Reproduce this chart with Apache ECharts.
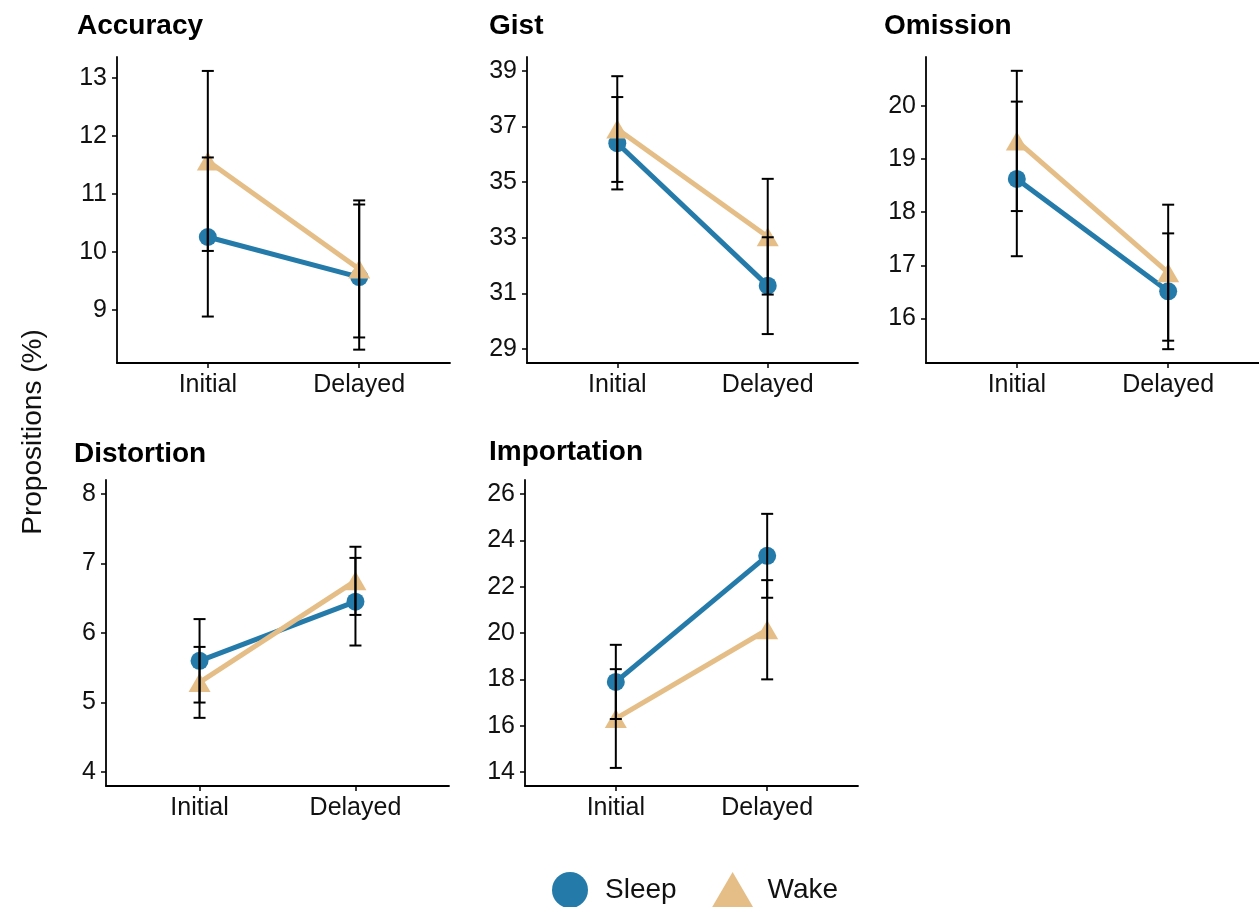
<!DOCTYPE html>
<html>
<head>
<meta charset="utf-8">
<script src="https://cdn.jsdelivr.net/npm/echarts@6/dist/echarts.min.js"></script>
<style>html,body{margin:0;padding:0;background:#fff}#c{width:1259px;height:907px}</style>
</head>
<body>
<div id="c"></div>
<script>
// ---- data ----
var categories = ['Initial', 'Delayed'];
var panelTitles = ['Accuracy', 'Gist', 'Omission', 'Distortion', 'Importation'];
var groups = ['Sleep', 'Wake'];
// means [Initial, Delayed]
var sleepMean = [[10.26, 9.57], [36.40, 31.28], [18.625, 16.51], [5.60, 6.45], [17.89, 23.33]];
var wakeMean  = [[11.57, 9.71], [36.91, 33.04], [19.34, 16.86], [5.29, 6.75], [16.31, 20.14]];
// error bar half-widths [Initial, Delayed]
var sleepErr = [[1.37, 1.25], [1.66, 1.74], [1.455, 1.09], [0.60, 0.63], [1.60, 1.81]];
var wakeErr  = [[1.55, 1.18], [1.90, 2.08], [1.32, 1.28], [0.51, 0.49], [2.13, 2.14]];
// y tick labels
var yTicks = [[9, 10, 11, 12, 13], [29, 31, 33, 35, 37, 39], [16, 17, 18, 19, 20], [4, 5, 6, 7, 8], [14, 16, 18, 20, 22, 24, 26]];
var yMin = [8.09, 28.5, 15.16, 3.8, 13.4];
var yMax = [13.36, 39.5, 20.92, 8.2, 26.6];

// ---- layout ----
var grids = [
  {left: 117, top: 57, width: 333, height: 306},
  {left: 527, top: 57, width: 331, height: 306},
  {left: 926, top: 57, width: 333, height: 306},
  {left: 106, top: 480, width: 343, height: 306},
  {left: 525, top: 480, width: 333, height: 306}
];
var titlePos = [[77, 12], [489, 12], [884, 12], [74, 440], [489, 438]];
var blue = '#247BAA', tan = '#E5BE87';
var font = '"Liberation Sans", Arial, Helvetica, sans-serif';

var option = {
  animation: false,
  backgroundColor: '#fff',
  title: panelTitles.map(function (t, i) {
    return {text: t, left: titlePos[i][0], top: titlePos[i][1], padding: 0,
      textStyle: {fontFamily: font, fontSize: 28, fontWeight: 'bold', color: '#000'}};
  }),
  grid: grids.map(function (g) { return Object.assign({containLabel: false}, g); }),
  legend: {
    left: 547, top: 867, orient: 'horizontal',
    itemWidth: 42, itemHeight: 36, itemGap: 35,
    textStyle: {fontFamily: font, fontSize: 28, color: '#111', padding: [0, 0, 0, 9]},
    data: [
      {name: 'Sleep', icon: 'circle', itemStyle: {color: blue}},
      {name: 'Wake', icon: 'triangle', itemStyle: {color: tan}}
    ],
    selectedMode: false
  },
  graphic: [{
    type: 'text', x: 33, y: 432, rotation: Math.PI / 2,
    style: {text: 'Propositions (%)', font: '28px ' + font, fill: '#111',
      align: 'center', verticalAlign: 'middle'}
  }],
  xAxis: grids.map(function (g, i) {
    return {
      type: 'value', gridIndex: i, min: 0.4, max: 2.6,
      axisLine: {show: true, lineStyle: {color: '#000', width: 1.8}},
      axisTick: {show: true, length: 5, lineStyle: {color: '#000', width: 1.5}, customValues: [1, 2]},
      axisLabel: {show: true, customValues: [1, 2], margin: 10, fontFamily: font, fontSize: 25, color: '#111',
        formatter: function (v) { return categories[Math.round(v) - 1] || ''; }},
      splitLine: {show: false}
    };
  }),
  yAxis: grids.map(function (g, i) {
    return {
      type: 'value', gridIndex: i, min: yMin[i], max: yMax[i],
      axisLine: {show: true, lineStyle: {color: '#000', width: 1.8}},
      axisTick: {show: true, length: 5, lineStyle: {color: '#000', width: 1.5}, customValues: yTicks[i]},
      axisLabel: {show: true, customValues: yTicks[i], margin: 10, fontFamily: font, fontSize: 25, color: '#111'},
      splitLine: {show: false}
    };
  }),
  series: []
};

function errRender(params, api) {
  var x = api.value(0), lo = api.value(1), hi = api.value(2);
  var p1 = api.coord([x, lo]), p2 = api.coord([x, hi]);
  var w = 6;
  var st = {stroke: '#000', lineWidth: 2};
  return {type: 'group', children: [
    {type: 'line', shape: {x1: p1[0], y1: p1[1], x2: p2[0], y2: p2[1]}, style: st},
    {type: 'line', shape: {x1: p1[0] - w, y1: p1[1], x2: p1[0] + w, y2: p1[1]}, style: st},
    {type: 'line', shape: {x1: p2[0] - w, y1: p2[1], x2: p2[0] + w, y2: p2[1]}, style: st}
  ]};
}

for (var i = 0; i < 5; i++) {
  option.series.push({
    name: 'Sleep', type: 'line', xAxisIndex: i, yAxisIndex: i,
    data: [[1, sleepMean[i][0]], [2, sleepMean[i][1]]],
    symbol: 'circle', symbolSize: 18,
    lineStyle: {color: blue, width: 5}, itemStyle: {color: blue}, z: 3
  });
  option.series.push({
    name: 'Wake', type: 'line', xAxisIndex: i, yAxisIndex: i,
    data: [[1, wakeMean[i][0]], [2, wakeMean[i][1]]],
    symbol: 'triangle', symbolSize: [22, 19],
    lineStyle: {color: tan, width: 5}, itemStyle: {color: tan}, z: 3
  });
  var eb = [];
  for (var k = 0; k < 2; k++) {
    eb.push([k + 1, sleepMean[i][k] - sleepErr[i][k], sleepMean[i][k] + sleepErr[i][k]]);
    eb.push([k + 1, wakeMean[i][k] - wakeErr[i][k], wakeMean[i][k] + wakeErr[i][k]]);
  }
  option.series.push({
    type: 'custom', xAxisIndex: i, yAxisIndex: i, renderItem: errRender,
    data: eb, z: 5, silent: true
  });
}

var chart = echarts.init(document.getElementById('c'), null, {renderer: 'canvas'});
chart.setOption(option);
</script>
</body>
</html>
